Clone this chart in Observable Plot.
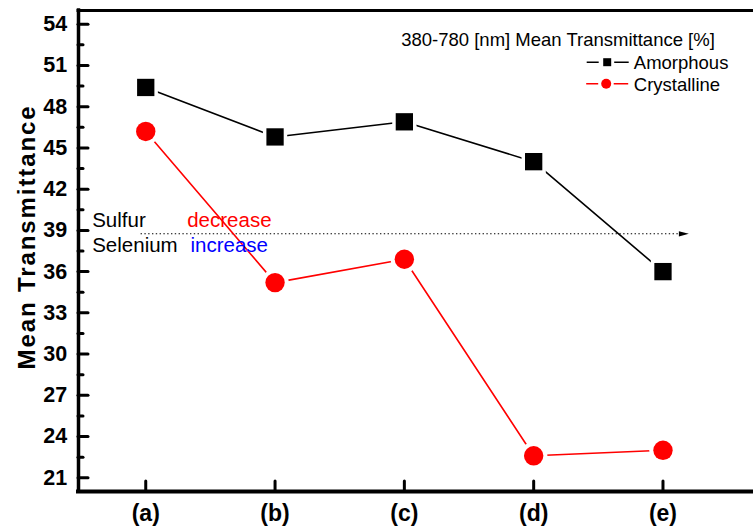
<!DOCTYPE html>
<html>
<head>
<meta charset="utf-8">
<script src="https://cdn.jsdelivr.net/npm/d3@7"></script>
<script src="https://cdn.jsdelivr.net/npm/@observablehq/plot@0.6"></script>
<style>
  html, body { margin: 0; padding: 0; background: #fff; }
</style>
</head>
<body>
<div id="chart"></div>
<script>
// Samples along the x axis
const samples = ["(a)", "(b)", "(c)", "(d)", "(e)"];
// 380-780 nm mean transmittance (%) per sample
const amorphous = [49.4, 45.8, 46.9, 44.0, 36.0];
const crystalline = [46.2, 35.2, 36.9, 22.6, 23.0];

// Axis ticks
const yTicks = [21, 24, 27, 30, 33, 36, 39, 42, 45, 48, 51, 54];
const yMinorTicks = [22.5, 25.5, 28.5, 31.5, 34.5, 37.5, 40.5, 43.5, 46.5, 49.5, 52.5];

// Legend and annotation text
const legendTitle = "380-780 [nm] Mean Transmittance [%]";
const seriesNames = ["Amorphous", "Crystalline"];
const yTitle = "Mean Transmittance";
const trendLabels = ["Sulfur", "decrease", "Selenium", "increase"];

// Composition trend arrow (level and span in data units)
const arrowLevel = 38.75;
const arrowFrom = -0.04;
const arrowTo = 4.2;

const amorphousRows = samples.map((s, i) => ({i, v: amorphous[i]}));
const crystallineRows = samples.map((s, i) => ({i, v: crystalline[i]}));

const font = "'Liberation Sans', Arial, Helvetica, sans-serif";

// Arrowhead pointing right, tip at the origin
const arrowHead = {
  draw(ctx) {
    ctx.moveTo(0, 0);
    ctx.lineTo(-10, -2.6);
    ctx.lineTo(-10, 2.6);
    ctx.closePath();
  }
};
// Broken line used behind the legend markers
const legendDash = {
  draw(ctx) {
    ctx.moveTo(-20.5, 0);
    ctx.lineTo(-8.5, 0);
    ctx.moveTo(7, 0);
    ctx.lineTo(21.5, 0);
  }
};

const legendText = (t, dx, dy, opts = {}) => Plot.text([t], {
  text: d => d, frameAnchor: "top-left", dx, dy,
  textAnchor: "start", lineAnchor: "bottom", fontSize: 18.5, fill: "black", ...opts
});

const plot = Plot.plot({
  width: 753,
  height: 529,
  marginLeft: 78,
  marginRight: 0,
  marginTop: 10,
  marginBottom: 38,
  style: {fontFamily: font, fontSize: "18px", color: "black", background: "white"},
  x: {type: "linear", domain: [-0.52, 4.7]},
  y: {domain: [20, 55]},
  marks: [
    // dotted composition arrow
    Plot.link([{x1: arrowFrom, x2: arrowTo - 0.035, y: arrowLevel}], {
      x1: "x1", x2: "x2", y1: "y", y2: "y",
      stroke: "black", strokeWidth: 1.1, strokeDasharray: "1.4,2.4"
    }),
    Plot.dot([{x: arrowTo, y: arrowLevel}], {x: "x", y: "y", symbol: arrowHead, fill: "black", stroke: "none"}),

    // series lines
    Plot.line(amorphousRows, {x: "i", y: "v", stroke: "black", strokeWidth: 1.6}),
    Plot.line(crystallineRows, {x: "i", y: "v", stroke: "#ff0000", strokeWidth: 1.6}),

    // white gaps around markers
    Plot.dot(amorphousRows, {x: "i", y: "v", symbol: "square", r: 13.7, fill: "white"}),
    Plot.dot(crystallineRows, {x: "i", y: "v", symbol: "circle", r: 13.7, fill: "white"}),

    // markers
    Plot.dot(amorphousRows, {x: "i", y: "v", symbol: "square", r: 9.76, fill: "black"}),
    Plot.dot(crystallineRows, {x: "i", y: "v", symbol: "circle", r: 9.7, fill: "#ff0000"}),

    // frame: left, bottom and top borders
    Plot.ruleX([-0.52], {stroke: "black", strokeWidth: 3.5, strokeLinecap: "square"}),
    Plot.ruleY([20], {stroke: "black", strokeWidth: 4, strokeLinecap: "square"}),
    Plot.ruleY([55], {stroke: "black", strokeWidth: 3, strokeLinecap: "square"}),

    // axes with inward ticks
    Plot.axisY(yTicks, {
      anchor: "left", tickSize: -10, tickPadding: 21.3, strokeWidth: 3, strokeLinecap: "round",
      fontSize: 21.5, fontWeight: "bold", fill: "black", label: null
    }),
    Plot.axisY(yMinorTicks, {
      anchor: "left", tickSize: -5, strokeWidth: 3, strokeLinecap: "round",
      tickFormat: () => "", label: null
    }),
    Plot.axisX([0, 1, 2, 3, 4], {
      anchor: "bottom", tickSize: -10, tickPadding: 22.7, strokeWidth: 3, strokeLinecap: "round",
      tickFormat: i => samples[i], fontSize: 23, fontWeight: "bold", fill: "black", label: null
    }),

    // y axis title
    Plot.text([yTitle], {
      text: d => d, frameAnchor: "left", rotate: -90, dx: -51.5, dy: -14,
      textAnchor: "middle", lineAnchor: "middle",
      fontSize: 24, fontWeight: "bold", fill: "black"
    }),

    // composition annotations
    Plot.text([trendLabels[0]], {text: d => d, frameAnchor: "top-left", dx: 13.7, dy: 216, textAnchor: "start", lineAnchor: "bottom", fontSize: 20.5, fill: "black"}),
    Plot.text([trendLabels[1]], {text: d => d, frameAnchor: "top-left", dx: 108.7, dy: 216, textAnchor: "start", lineAnchor: "bottom", fontSize: 20.5, fill: "#ff0000"}),
    Plot.text([trendLabels[2]], {text: d => d, frameAnchor: "top-left", dx: 13.7, dy: 241, textAnchor: "start", lineAnchor: "bottom", fontSize: 20.5, fill: "black"}),
    Plot.text([trendLabels[3]], {text: d => d, frameAnchor: "top-left", dx: 112, dy: 241, textAnchor: "start", lineAnchor: "bottom", fontSize: 20.5, fill: "#0000ff"}),

    // legend
    legendText(legendTitle, 322.7, 35.7),
    Plot.dot([0], {frameAnchor: "top-left", dx: 528.7, dy: 51.7, symbol: legendDash, stroke: "black", strokeWidth: 1.5, fill: "none"}),
    Plot.dot([0], {frameAnchor: "top-left", dx: 528.7, dy: 51.7, symbol: "square", r: 4.51, fill: "black"}),
    legendText(seriesNames[0], 555.3, 58.3),
    Plot.dot([0], {frameAnchor: "top-left", dx: 528.2, dy: 73.3, symbol: legendDash, stroke: "#ff0000", strokeWidth: 1.5, fill: "none"}),
    Plot.dot([0], {frameAnchor: "top-left", dx: 527.7, dy: 73.3, symbol: "circle", r: 5, fill: "#ff0000"}),
    legendText(seriesNames[1], 555.3, 80)
  ]
});

// widen the spacing of the rotated axis title
d3.select(plot).selectAll("text")
  .filter(function() { return this.textContent === yTitle; })
  .attr("letter-spacing", "1.9px");

document.getElementById("chart").appendChild(plot);
</script>
</body>
</html>
